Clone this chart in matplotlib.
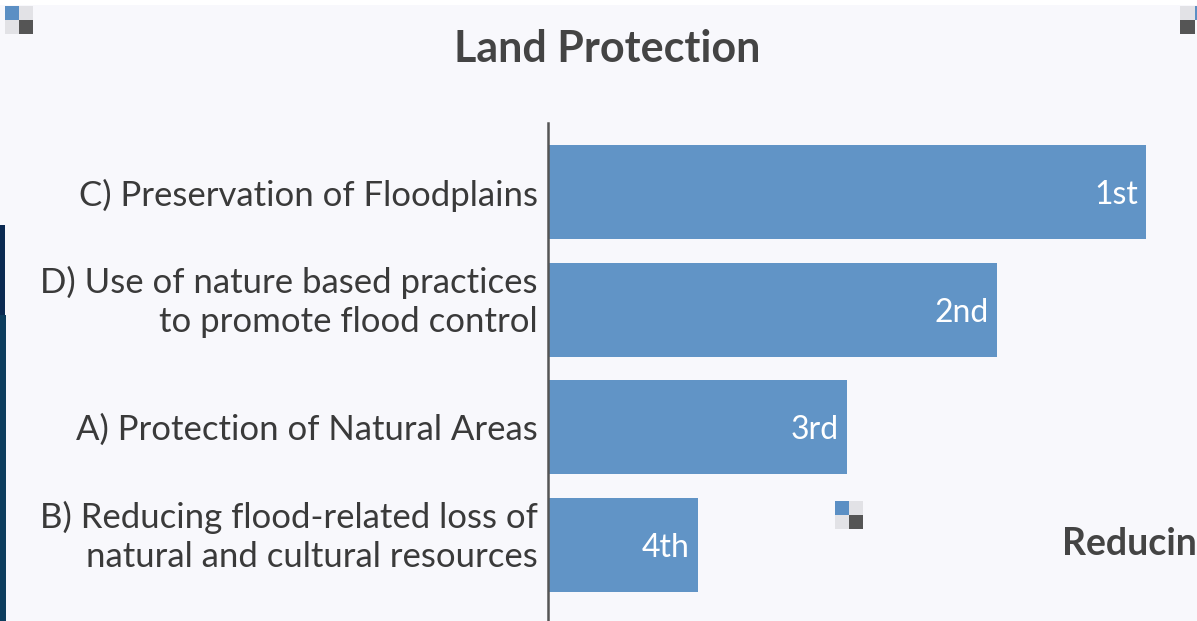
import matplotlib
matplotlib.use("Agg")
import matplotlib.pyplot as plt
from matplotlib.patches import Rectangle

# ---- data ----
categories = [
    "C) Preservation of Floodplains",
    "D) Use of nature based practices\nto promote flood control",
    "A) Protection of Natural Areas",
    "B) Reducing flood-related loss of\nnatural and cultural resources",
]
scores = [4, 3, 2, 1]
rank_labels = ["1st", "2nd", "3rd", "4th"]
title = "Land Protection"

W, H = 1197, 621
DPI = 100
BG = "#f8f8fc"
BAR = "#6194c6"
TXT = "#3a3a3a"
FONT = ["Lato", "DejaVu Sans"]

fig = plt.figure(figsize=(W / DPI, H / DPI), dpi=DPI)
fig.patch.set_facecolor(BG)

def px_rect(x0, y0, x1, y1, color, z=5):
    fig.patches.append(Rectangle((x0 / W, 1 - y1 / H), (x1 - x0) / W, (y1 - y0) / H,
                                 transform=fig.transFigure, facecolor=color,
                                 edgecolor="none", zorder=z))

# white top strip
px_rect(0, 0, W, 5, "white", 0)

ax_left, ax_top = 548, 123
ax = fig.add_axes([ax_left / W, 0, 1 - ax_left / W, 1 - ax_top / H])
ax.set_facecolor(BG)

y = list(range(len(categories)))
ax.barh(y, scores, height=0.8, color=BAR, zorder=2)
ax.set_ylim(3.65, -0.59)
ax.set_xlim(0, (W - ax_left) / 149.5)

ax.set_yticks(y)
ax.set_yticklabels([""] * len(y))
ax.tick_params(axis="y", length=0)
ax.set_xticks([])
for s in ["top", "right", "bottom"]:
    ax.spines[s].set_visible(False)
ax.spines["left"].set_color("#555555")
ax.spines["left"].set_linewidth(1.8)

pt = 72 / DPI  # points per pixel
for yi, lab in zip(y, categories):
    multi = "\n" in lab
    ax.annotate(lab, xy=(0, yi), xycoords=("axes fraction", "data"),
                xytext=(-10 * pt, 8 * pt if multi else 0), textcoords="offset points",
                ha="right", va="center" if multi else "center_baseline",
                multialignment="right",
                fontsize=25, color=TXT, family=FONT, linespacing=1.27,
                annotation_clip=False)

for yi, v, lab in zip(y, scores, rank_labels):
    ax.text(v - 0.055, yi, lab, ha="right", va="center_baseline", color="white",
            fontsize=23, family=FONT, zorder=3)

fig.text(607 / W, 1 - 49 / H, title, ha="center", va="center", fontsize=31,
         fontweight="bold", color="#444444", family=FONT)

# decorative screenshot artifacts
fig.text(1062 / W, 1 - 544 / H, "Reducin", ha="left", va="center", fontsize=27,
         fontweight="bold", color="#444444", family=FONT)

def icon(x, y, s=14):
    px_rect(x, y, x + s, y + s, "#5b8fc4")
    px_rect(x + s, y, x + 2 * s, y + s, "#e2e2e6")
    px_rect(x, y + s, x + s, y + 2 * s, "#e2e2e6")
    px_rect(x + s, y + s, x + 2 * s, y + 2 * s, "#555555")

icon(5, 6)
icon(835, 501)
px_rect(1180, 6, 1195, 20, "#e2e2e6")
px_rect(1180, 20, 1195, 34, "#555555")
px_rect(1195, 6, 1197, 20, "#5b8fc4")
px_rect(0, 225, 5, 315, "#0b2a52")
px_rect(0, 315, 6, 621, "#0d3d5e")

fig.savefig("out.png", dpi=DPI, facecolor=BG)
